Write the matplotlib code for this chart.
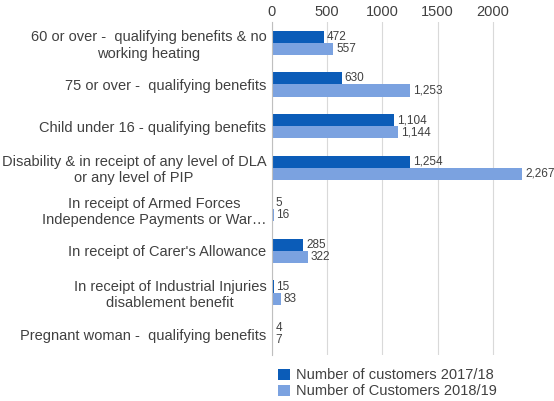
import matplotlib
matplotlib.use("Agg")
import matplotlib.pyplot as plt
import numpy as np

categories = ["60 or over -  qualifying benefits & no\nworking heating",
              "75 or over -  qualifying benefits",
              "Child under 16 - qualifying benefits",
              "Disability & in receipt of any level of DLA\nor any level of PIP",
              "In receipt of Armed Forces\nIndependence Payments or War\u2026",
              "In receipt of Carer's Allowance",
              "In receipt of Industrial Injuries\ndisablement benefit",
              "Pregnant woman -  qualifying benefits"]
s1718 = [472, 630, 1104, 1254, 5, 285, 15, 4]
s1819 = [557, 1253, 1144, 2267, 16, 322, 83, 7]
ticks = [0, 500, 1000, 1500, 2000]

plt.rcParams['font.family'] = ['Liberation Sans', 'DejaVu Sans']
fig = plt.figure(figsize=(5.54, 4.01), dpi=100)
ax = fig.add_axes([272/554, 1-355/401, (548-272)/554, (355-22)/401])
y = np.arange(len(categories))
h = 0.29
c1, c2 = "#0B5CB8", "#7BA2E0"
b1 = ax.barh(y - h/2, s1718, h, color=c1, label="Number of customers 2017/18")
b2 = ax.barh(y + h/2, s1819, h, color=c2, label="Number of Customers 2018/19")
for bars, vals in ((b1, s1718), (b2, s1819)):
    for b, v in zip(bars, vals):
        ax.text(v + 25, b.get_y() + b.get_height()/2, f"{v:,}", va="center", fontsize=8.5, color="#404040")
ax.set_ylim(len(categories) - 0.5, -0.5)
ax.set_xlim(0, 2500)
ax.set_xticks(ticks)
ax.xaxis.tick_top()
ax.tick_params(axis='x', length=0, labelsize=10.5, colors="#404040", pad=2)
ax.tick_params(axis='y', length=0, labelsize=10.5, colors="#404040", pad=4)
ax.set_yticks(y)
ax.set_yticklabels(categories, multialignment="center")
ax.grid(axis='x', color="#D9D9D9", lw=0.8)
ax.set_axisbelow(True)
for s in ["top", "right", "bottom"]:
    ax.spines[s].set_visible(False)
ax.spines["left"].set_color("#BFBFBF")
fig.legend(loc="upper left", bbox_to_anchor=(268/554, 1-358/401), frameon=False,
           fontsize=10.5, handlelength=0.8, handleheight=0.8, labelspacing=0.15,
           borderpad=0.2, handletextpad=0.4, labelcolor="#404040")
fig.savefig("out.png", dpi=100)
